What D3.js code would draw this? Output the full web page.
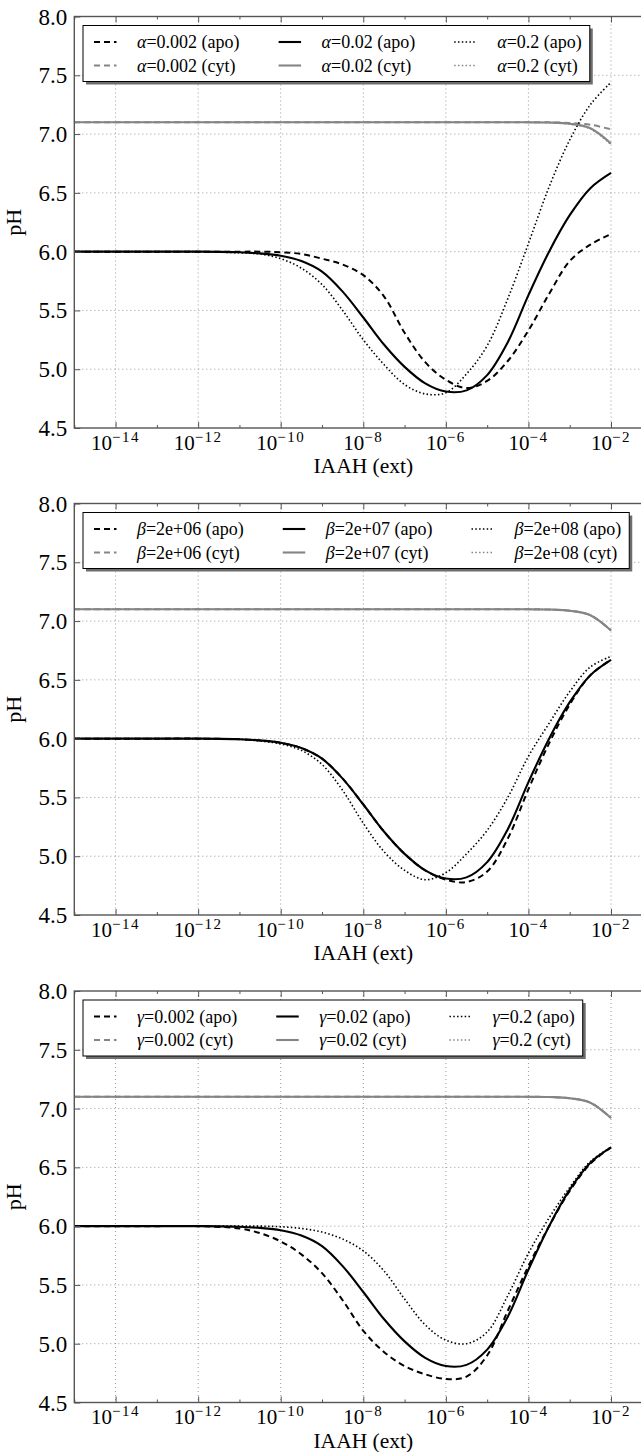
<!DOCTYPE html>
<html>
<head>
<meta charset="utf-8">
<script src="https://cdn.jsdelivr.net/npm/d3@7"></script>
<style>
  body { margin: 0; background: #fff; }
  svg { display: block; font-family: "Liberation Serif", "Times New Roman", serif; }
</style>
</head>
<body>
<div id="chart"></div>
<script>
// x values (log10 of external IAAH) shared by every series
const logIAAH = [-15, -14, -13, -12, -11, -10.5, -10, -9.5, -9, -8.5, -8, -7.5, -7,
                 -6.5, -6, -5.5, -5, -4.5, -4, -3.5, -3, -2.5, -2];

// apoplast pH, default parameters (alpha=0.02, beta=2e+07, gamma=0.02)
const baseApo = [6, 6, 6, 6, 5.995, 5.985, 5.965, 5.92, 5.83, 5.66, 5.44, 5.21, 5.02,
                 4.88, 4.81, 4.82, 4.95, 5.23, 5.63, 6.0, 6.31, 6.54, 6.67];
// cytoplasm pH, default parameters
const baseCyt = [7.1, 7.1, 7.1, 7.1, 7.1, 7.1, 7.1, 7.1, 7.1, 7.1, 7.1, 7.1, 7.1,
                 7.1, 7.1, 7.1, 7.1, 7.1, 7.1, 7.098, 7.088, 7.05, 6.92];

// panel 1: alpha
const alphaLowApo = [6, 6, 6, 6, 6, 6.0, 5.995, 5.98, 5.94, 5.89, 5.80, 5.62, 5.31,
                     5.06, 4.91, 4.84, 4.90, 5.07, 5.33, 5.64, 5.92, 6.06, 6.15];
const alphaLowCyt = [7.1, 7.1, 7.1, 7.1, 7.1, 7.1, 7.1, 7.1, 7.1, 7.1, 7.1, 7.1, 7.1,
                     7.1, 7.1, 7.1, 7.1, 7.1, 7.1, 7.1, 7.095, 7.08, 7.04];
const alphaHighApo = [6, 6, 6, 6, 5.99, 5.98, 5.94, 5.86, 5.72, 5.50, 5.25, 5.04, 4.87,
                      4.79, 4.80, 4.96, 5.20, 5.60, 6.07, 6.55, 6.95, 7.25, 7.44];
const alphaHighCyt = [7.1, 7.1, 7.1, 7.1, 7.1, 7.1, 7.1, 7.1, 7.1, 7.1, 7.1, 7.1, 7.1,
                      7.1, 7.1, 7.1, 7.1, 7.1, 7.1, 7.097, 7.085, 7.045, 6.91];

// panel 2: beta
const betaLowApo = [6, 6, 6, 6, 5.995, 5.985, 5.965, 5.92, 5.83, 5.66, 5.44, 5.21, 5.02,
                    4.88, 4.80, 4.78, 4.87, 5.15, 5.57, 5.96, 6.29, 6.54, 6.67];
const betaHighApo = [6, 6, 6, 6, 5.995, 5.98, 5.955, 5.90, 5.78, 5.56, 5.28, 5.04, 4.88,
                     4.80, 4.86, 5.02, 5.22, 5.50, 5.85, 6.13, 6.40, 6.61, 6.70];

// panel 3: gamma
const gammaLowApo = [6, 6, 6, 6, 5.98, 5.94, 5.87, 5.76, 5.60, 5.37, 5.11, 4.93, 4.81,
                     4.74, 4.70, 4.72, 4.90, 5.28, 5.66, 6.0, 6.30, 6.53, 6.67];
const gammaHighApo = [6, 6, 6, 6, 6.0, 6.0, 5.995, 5.98, 5.95, 5.89, 5.79, 5.62, 5.38,
                      5.16, 5.03, 5.00, 5.10, 5.41, 5.77, 6.07, 6.33, 6.55, 6.67];

const xTickExps = [-14, -12, -10, -8, -6, -4, -2];
const xMinorExps = [-15, -13, -11, -9, -7, -5, -3, -1];
const yTicks = [4.5, 5.0, 5.5, 6.0, 6.5, 7.0, 7.5, 8.0];

const panels = [
  { sym: 'α', vals: ['0.002', '0.02', '0.2'],
    apo: [alphaLowApo, baseApo, alphaHighApo], cyt: [alphaLowCyt, baseCyt, alphaHighCyt] },
  { sym: 'β', vals: ['2e+06', '2e+07', '2e+08'],
    apo: [betaLowApo, baseApo, betaHighApo], cyt: [baseCyt, baseCyt, baseCyt] },
  { sym: 'γ', vals: ['0.002', '0.02', '0.2'],
    apo: [gammaLowApo, baseApo, gammaHighApo], cyt: [baseCyt, baseCyt, baseCyt] }
];

// layout
const W = 641, H = 1452;
const left = 74.3;
const plotW = 578;            // 10^-15 .. 10^-1, right part runs off the canvas
const plotH = 411.5;
const tops = [16.5, 503.5, 991];

const styles = [
  { dash: '6,4', width: 2 },
  { dash: null, width: 2.1 },
  { dash: '1.5,2.3', width: 1.6 }
];
const apoColor = '#000';
const cytColor = '#858585';

const svg = d3.select('#chart').append('svg')
  .attr('width', W)
  .attr('height', H);

const x = d3.scaleLinear().domain([-15, -1]).range([0, plotW]);
const y = d3.scaleLinear().domain([4.5, 8.0]).range([plotH, 0]);

const line = d3.line()
  .x(d => x(d[0]))
  .y(d => y(d[1]))
  .curve(d3.curveCatmullRom.alpha(0.5));

function drawPanel(p, top) {
  const g = svg.append('g').attr('transform', `translate(${left},${top})`);

  // grid
  g.append('g').selectAll('line').data(xTickExps).enter().append('line')
    .attr('x1', d => x(d)).attr('x2', d => x(d))
    .attr('y1', 0).attr('y2', plotH)
    .attr('stroke', '#999').attr('stroke-width', 1).attr('stroke-dasharray', '1,3');
  g.append('g').selectAll('line').data(yTicks.slice(1, -1)).enter().append('line')
    .attr('x1', 0).attr('x2', plotW)
    .attr('y1', d => y(d)).attr('y2', d => y(d))
    .attr('stroke', '#999').attr('stroke-width', 1).attr('stroke-dasharray', '1,3');

  // curves, in legend order: dashed apo, dashed cyt, solid apo, solid cyt, ...
  styles.forEach((s, i) => {
    [[p.apo[i], apoColor], [p.cyt[i], cytColor]].forEach(([vals, col]) => {
      g.append('path')
        .datum(logIAAH.map((lx, k) => [lx, vals[k]]))
        .attr('d', line)
        .attr('fill', 'none')
        .attr('stroke', col)
        .attr('stroke-width', s.width)
        .attr('stroke-dasharray', s.dash);
    });
  });

  // frame
  g.append('rect')
    .attr('width', plotW).attr('height', plotH)
    .attr('fill', 'none').attr('stroke', '#555').attr('stroke-width', 1.4);

  // ticks (inward), top and bottom
  const xAxisB = d3.axisBottom(x).tickValues(xTickExps).tickSizeInner(-6).tickSizeOuter(0).tickFormat('');
  const xAxisT = d3.axisTop(x).tickValues(xTickExps).tickSizeInner(-6).tickSizeOuter(0).tickFormat('');
  const xMinB = d3.axisBottom(x).tickValues(xMinorExps).tickSizeInner(-3).tickSizeOuter(0).tickFormat('');
  const xMinT = d3.axisTop(x).tickValues(xMinorExps).tickSizeInner(-3).tickSizeOuter(0).tickFormat('');
  const yAxis = d3.axisLeft(y).tickValues(yTicks).tickSizeInner(-6).tickSizeOuter(0).tickFormat('');
  [[xAxisB, plotH], [xMinB, plotH], [xAxisT, 0], [xMinT, 0]].forEach(([ax, ty]) => {
    const a = g.append('g').attr('transform', `translate(0,${ty})`).call(ax);
    a.select('.domain').remove();
    a.selectAll('line').attr('stroke', '#555');
  });
  const ya = g.append('g').call(yAxis);
  ya.select('.domain').remove();
  ya.selectAll('line').attr('stroke', '#555');

  // tick labels
  g.append('g').selectAll('text').data(yTicks).enter().append('text')
    .attr('x', -7).attr('y', d => y(d)).attr('dy', '0.35em')
    .attr('text-anchor', 'end').attr('font-size', 23).attr('fill', '#000')
    .text(d => d.toFixed(1));

  const xl = g.append('g').selectAll('text').data(xTickExps).enter().append('text')
    .attr('x', d => x(d)).attr('y', plotH + 21.5)
    .attr('text-anchor', 'middle').attr('font-size', 21).attr('fill', '#000');
  xl.append('tspan').text('10');
  xl.append('tspan').attr('dy', -7.6).attr('font-size', 15).attr('letter-spacing', 1.5)
    .text(d => '−' + Math.abs(d));

  // axis titles
  g.append('text')
    .attr('x', x(-8)).attr('y', plotH + 45)
    .attr('text-anchor', 'middle').attr('font-size', 21.5)
    .text('IAAH (ext)');
  g.append('text')
    .attr('transform', `translate(${-53},${plotH / 2}) rotate(-90)`)
    .attr('text-anchor', 'middle').attr('font-size', 22)
    .text('pH');

  // legend
  const lg = g.append('g').attr('transform', 'translate(8.7,9)');
  const items = [];
  styles.forEach((s, i) => {
    items.push({ s, col: apoColor, val: p.vals[i], tag: '(apo)', row: 0, c: i });
    items.push({ s, col: cytColor, val: p.vals[i], tag: '(cyt)', row: 1, c: i });
  });
  const shadow = lg.append('rect').attr('fill', '#6e6e6e');
  const box = lg.append('rect').attr('fill', '#fff').attr('stroke', '#000').attr('stroke-width', 1);
  const rowY = [16.5, 40];
  const texts = items.map(it => {
    const t = lg.append('text')
      .attr('y', rowY[it.row]).attr('dy', '0.35em')
      .attr('font-size', 18).attr('fill', '#000');
    t.append('tspan').attr('font-style', 'italic').text(p.sym);
    t.append('tspan').text(`=${it.val} ${it.tag}`);
    return t;
  });
  // column widths from the widest label in each column
  let cx = 11;
  const colX = [];
  for (let c = 0; c < 3; c++) {
    colX.push(cx);
    const wmax = d3.max(items.map((it, k) => it.c === c ? texts[k].node().getComputedTextLength() : 0));
    cx += 43 + wmax + 39;
  }
  const boxW = cx - 39 + 8;
  items.forEach((it, k) => {
    texts[k].attr('x', colX[it.c] + 43);
    lg.append('line')
      .attr('x1', colX[it.c]).attr('x2', colX[it.c] + 22.5)
      .attr('y1', rowY[it.row]).attr('y2', rowY[it.row])
      .attr('stroke', it.col).attr('stroke-width', it.s.width)
      .attr('stroke-dasharray', it.s.dash);
  });
  box.attr('width', boxW).attr('height', 56);
  shadow.attr('x', 3).attr('y', 3).attr('width', boxW).attr('height', 56);
}

panels.forEach((p, i) => drawPanel(p, tops[i]));
</script>
</body>
</html>
